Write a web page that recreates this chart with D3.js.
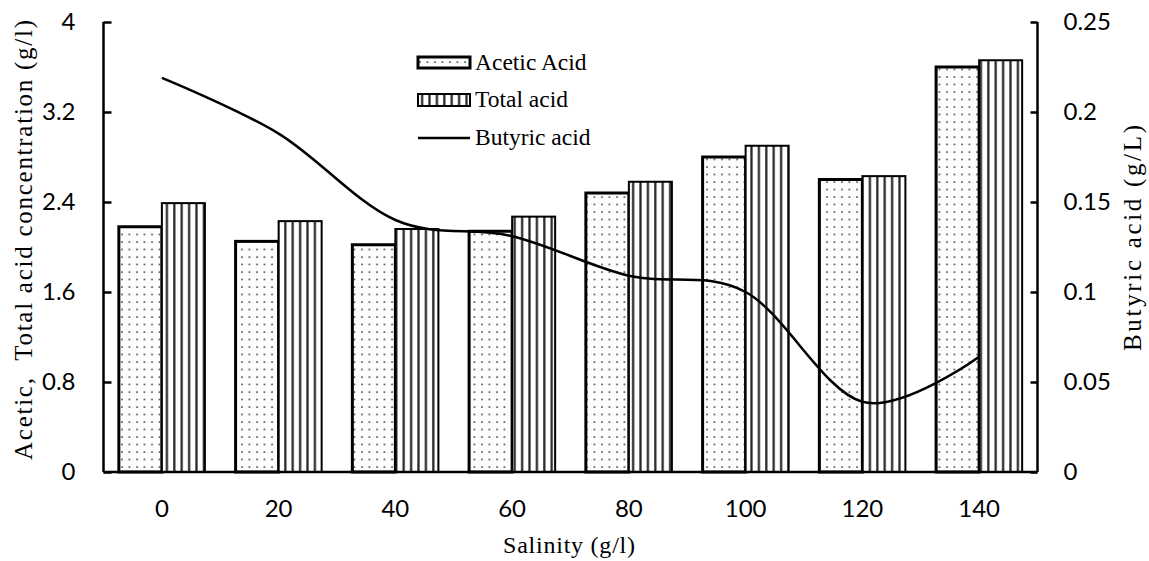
<!DOCTYPE html>
<html><head><meta charset="utf-8">
<script src="https://cdn.jsdelivr.net/npm/d3@7"></script>
<style>body{margin:0;background:#fff}svg{display:block}</style>
</head><body>
<svg id="chart" width="1149" height="561"></svg>
<script>
const salinity = ["0","20","40","60","80","100","120","140"];
const acetic = [2.18, 2.05, 2.02, 2.14, 2.48, 2.80, 2.60, 3.60];
const totalAcid = [2.39, 2.23, 2.16, 2.27, 2.58, 2.90, 2.63, 3.66];
const butyric = [0.219, 0.188, 0.140, 0.131, 0.109, 0.100, 0.039, 0.064];
const leftTicks = [0, 0.8, 1.6, 2.4, 3.2, 4];
const rightTicks = [0, 0.05, 0.1, 0.15, 0.2, 0.25];
const seriesNames = ["Acetic Acid", "Total acid", "Butyric acid"];

const svg = d3.select("#chart");
const m = {l: 103.5, r: 1037.5, t: 22, b: 472};
const x = d3.scaleBand().domain(salinity).range([m.l, m.r]).paddingInner(0.263).paddingOuter(0.1315);
const y = d3.scaleLinear().domain([0, 4]).range([m.b, m.t]);
const y2 = d3.scaleLinear().domain([0, 0.25]).range([m.b, m.t]);
const xc = d => x(d) + x.bandwidth() / 2;

const defs = svg.append("defs");
const dots = defs.append("pattern").attr("id", "dots").attr("patternUnits", "userSpaceOnUse")
  .attr("width", 7.5).attr("height", 7.5).attr("x", 0).attr("y", 0);
dots.append("rect").attr("width", 7.5).attr("height", 7.5).attr("fill", "#fdfdfd");
dots.append("circle").attr("cx", 2).attr("cy", 2).attr("r", 0.9).attr("fill", "#333");
const stripes = defs.append("pattern").attr("id", "stripes").attr("patternUnits", "userSpaceOnUse")
  .attr("width", 7.4).attr("height", 10);
stripes.append("rect").attr("width", 7.4).attr("height", 10).attr("fill", "#fff");
stripes.append("rect").attr("x", 3).attr("width", 2.2).attr("height", 10).attr("fill", "#222");

const sans = "Lato, 'Open Sans', sans-serif";
const serif = "'Liberation Serif', 'Times New Roman', serif";

// bars
const bw = x.bandwidth() / 2;
const g = svg.append("g");
g.selectAll(".ac").data(acetic).join("rect")
  .attr("x", (d, i) => x(salinity[i])).attr("y", d => y(d))
  .attr("width", bw).attr("height", d => y(0) - y(d))
  .attr("fill", "url(#dots)").attr("stroke", "#000").attr("stroke-width", 3);
g.selectAll(".to").data(totalAcid).join("rect")
  .attr("x", (d, i) => x(salinity[i]) + bw).attr("y", d => y(d))
  .attr("width", bw).attr("height", d => y(0) - y(d))
  .attr("fill", "url(#stripes)").attr("stroke", "#000").attr("stroke-width", 2);

// line
const line = d3.line().x((d, i) => xc(salinity[i])).y(d => y2(d)).curve(d3.curveCatmullRom.alpha(0));
svg.append("path").datum(butyric).attr("d", line).attr("fill", "none")
  .attr("stroke", "#000").attr("stroke-width", 2.5);

// axes
const axL = d3.axisLeft(y).tickValues(leftTicks).tickSize(-8).tickPadding(28).tickFormat(d3.format("~g"));
const gl = svg.append("g").attr("transform", `translate(${m.l},0)`).call(axL);
const axR = d3.axisRight(y2).tickValues(rightTicks).tickSize(-7).tickPadding(26).tickFormat(d3.format("~g"));
const gr = svg.append("g").attr("transform", `translate(${m.r},0)`).call(axR);
const axB = d3.axisBottom(x).tickSize(0).tickPadding(28);
const gb = svg.append("g").attr("transform", `translate(0,${m.b})`).call(axB);
[gl, gr, gb].forEach(a => {
  a.select(".domain").attr("stroke", "#000").attr("stroke-width", 2.5);
  a.selectAll(".tick line").attr("stroke", "#000").attr("stroke-width", 2.5);
  a.selectAll("text").attr("font-family", sans).attr("font-size", 24).attr("fill", "#000");
});
gl.select(".domain").attr("d", `M0,${m.t}V${m.b}`);
gr.select(".domain").attr("d", `M0,${m.t}V${m.b}`);
gb.select(".domain").attr("d", `M${m.l},0H${m.r}`);

// axis titles
svg.append("text").attr("transform", `translate(32,240) rotate(-90)`)
  .attr("text-anchor", "middle").attr("font-family", serif).attr("font-size", 25)
  .attr("textLength", 440).attr("lengthAdjust", "spacing")
  .style("white-space", "pre")
  .text("Acetic,  Total acid concentration (g/l)");
svg.append("text").attr("transform", `translate(1141,238) rotate(-90)`)
  .attr("text-anchor", "middle").attr("font-family", serif).attr("font-size", 25)
  .attr("textLength", 226).attr("lengthAdjust", "spacing")
  .text("Butyric acid (g/L)");
svg.append("text").attr("x", 569).attr("y", 553)
  .attr("text-anchor", "middle").attr("font-family", serif).attr("font-size", 24)
  .attr("textLength", 132).attr("lengthAdjust", "spacing")
  .text("Salinity (g/l)");

// legend
const lg = svg.append("g").attr("transform", "translate(418,0)");
const rows = [63, 100, 138];
lg.append("rect").attr("x", 0).attr("y", rows[0] - 6).attr("width", 52).attr("height", 11)
  .attr("fill", "url(#dots)").attr("stroke", "#000").attr("stroke-width", 3);
lg.append("rect").attr("x", 0).attr("y", rows[1] - 6).attr("width", 52).attr("height", 12)
  .attr("fill", "url(#stripes)").attr("stroke", "#000").attr("stroke-width", 2);
lg.append("line").attr("x1", 0).attr("x2", 52).attr("y1", rows[2]).attr("y2", rows[2])
  .attr("stroke", "#000").attr("stroke-width", 2.5);
lg.selectAll(".lt").data(seriesNames).join("text")
  .attr("x", 57).attr("y", (d, i) => rows[i] + 7)
  .attr("font-family", serif).attr("font-size", 23.5).attr("fill", "#000").text(d => d);
</script>
</body></html>
